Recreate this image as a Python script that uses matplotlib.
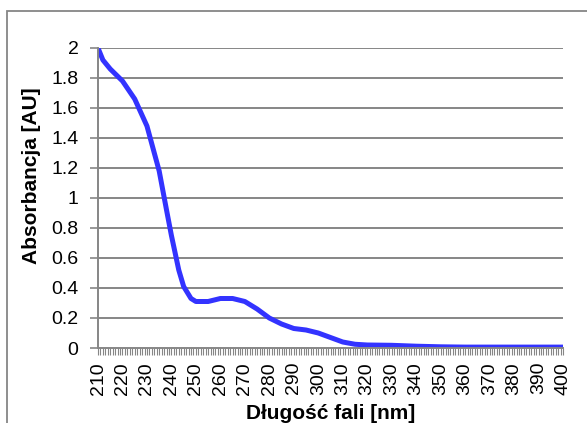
import matplotlib.pyplot as plt
from matplotlib.patches import Rectangle
from matplotlib.ticker import MultipleLocator

plt.rcParams['font.family'] = ['Liberation Sans', 'DejaVu Sans']

# absorbance spectrum read at selected wavelengths
wavelength = [210, 212, 215, 220, 225, 230, 235, 238, 240, 243, 245, 248, 250, 255,
              260, 265, 270, 275, 280, 285, 290, 295, 300, 305, 310, 315, 320,
              330, 340, 350, 360, 370, 380, 390, 400]
absorbance = [2.00, 1.92, 1.86, 1.78, 1.66, 1.48, 1.18, 0.92, 0.75, 0.52, 0.41, 0.33, 0.31, 0.31,
              0.33, 0.33, 0.31, 0.26, 0.20, 0.16, 0.13, 0.12, 0.10, 0.07, 0.04, 0.025, 0.02,
              0.018, 0.012, 0.008, 0.006, 0.006, 0.006, 0.006, 0.006]
xticks = list(range(210, 401, 10))
yticks = [0, 0.2, 0.4, 0.6, 0.8, 1, 1.2, 1.4, 1.6, 1.8, 2]
ytick_labels = ['0', '0.2', '0.4', '0.6', '0.8', '1', '1.2', '1.4', '1.6', '1.8', '2']

fig = plt.figure(figsize=(5.87, 4.23), dpi=100)
ax = fig.add_axes([98 / 587, 75 / 423, 465 / 587, 300 / 423])

# outer chart border
fig.patches.append(Rectangle((7 / 587, -0.05), 1.0, 1 - 11 / 423 + 0.05,
                             transform=fig.transFigure, fill=False,
                             edgecolor='#868686', linewidth=1.3))

ax.plot(wavelength, absorbance, color='#3333ff', linewidth=3.6,
        solid_joinstyle='round', solid_capstyle='butt')

ax.set_xlim(210, 400)
ax.set_ylim(0, 2)
ax.set_xticks(xticks)
ax.set_xticklabels([str(t) for t in xticks], rotation=90, fontsize=14)
ax.xaxis.set_minor_locator(MultipleLocator(1))
ax.set_yticks(yticks)
ax.set_yticklabels(ytick_labels, fontsize=14)

ax.tick_params(axis='x', which='both', direction='out', length=5, width=0.8,
               color='#868686', pad=5)
ax.tick_params(axis='y', direction='out', length=6, width=1.2, color='#868686', pad=8)

for y in yticks[1:]:
    ax.axhline(y, color='#868686', linewidth=1.4, zorder=0)

for side in ['top', 'right']:
    ax.spines[side].set_visible(False)
for side in ['left', 'bottom']:
    ax.spines[side].set_color('#868686')
    ax.spines[side].set_linewidth(1.4)

ax.set_xlabel('Długość fali [nm]', fontsize=15, fontweight='bold', va='center')
ax.set_ylabel('Absorbancja [AU]', fontsize=15, fontweight='bold', va='center', ha='center')
ax.xaxis.set_label_coords(0.5, -0.217)
ax.yaxis.set_label_coords(-0.142, 0.575)

fig.savefig('out.png', dpi=100)
